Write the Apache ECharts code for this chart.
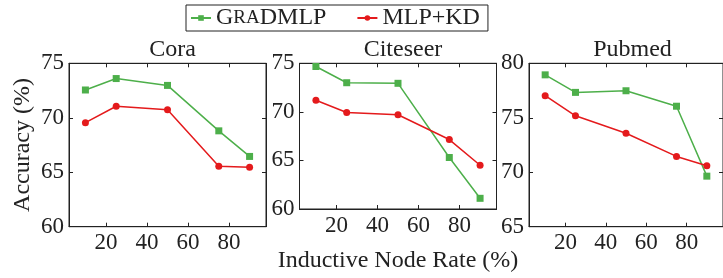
<!DOCTYPE html>
<html>
<head>
<meta charset="utf-8">
<script src="https://cdn.jsdelivr.net/npm/echarts@6/dist/echarts.min.js"></script>
<style>
  html, body { margin: 0; padding: 0; background: #fff; }
  #chart { width: 723px; height: 278px; }
</style>
</head>
<body>
<div id="chart"></div>
<script>
// inductive node rate (%)
var rates = [10, 25, 50, 75, 90];
var datasets = ['Cora', 'Citeseer', 'Pubmed'];

var gradCora     = [72.55, 73.6, 72.97, 68.8, 66.45];
var kdCora       = [69.55, 71.06, 70.73, 65.55, 65.45];
var gradCiteseer = [74.67, 73.0, 72.94, 65.3, 61.1];
var kdCiteseer   = [71.2, 69.94, 69.7, 67.15, 64.5];
var gradPubmed   = [78.94, 77.33, 77.48, 76.06, 69.64];
var kdPubmed     = [77.03, 75.18, 73.58, 71.45, 70.6];

var yMins = [60, 60, 65];
var yMaxs = [75, 75, 80];
var xTicks = [20, 40, 60, 80];

var FONT = 'Liberation Serif';
var GREEN = '#4daf4a';
var RED = '#e41a1c';
var INK = '#222';

var chart = echarts.init(document.getElementById('chart'));

var gradAll = [gradCora, gradCiteseer, gradPubmed];
var kdAll = [kdCora, kdCiteseer, kdPubmed];
var lefts = [69, 299.5, 529];

function pairs(vals) {
	return rates.map(function(r, i) { return [r, vals[i]]; });
}

var grids = [], xAxes = [], yAxes = [], titles = [], series = [];

datasets.forEach(function(name, i) {
	grids.push({
		left: lefts[i], top: 63.3, width: 197, height: 163.4,
		show: true, borderColor: INK, borderWidth: 1
	});
	titles.push({
		text: name,
		left: lefts[i] + 98.5, top: 33, textAlign: 'center',
		textStyle: { fontFamily: FONT, fontSize: 24, fontWeight: 'normal', color: INK }
	});
	// bottom axis with labels
	xAxes.push({
		gridIndex: i, type: 'value', min: 2, max: 98,
		name: i === 1 ? 'Inductive Node Rate (%)' : '',
		nameLocation: 'middle', nameGap: 40,
		nameTextStyle: { fontFamily: FONT, fontSize: 24, color: INK },
		axisLine: { lineStyle: { color: INK, width: 1 } },
		axisTick: { inside: true, length: 4, customValues: xTicks, lineStyle: { color: INK } },
		axisLabel: { customValues: xTicks, fontFamily: FONT, fontSize: 23, color: INK, margin: 5 },
		splitLine: { show: false }
	});
	// top axis, ticks only
	xAxes.push({
		gridIndex: i, type: 'value', min: 2, max: 98, position: 'top',
		axisLine: { lineStyle: { color: INK, width: 1 } },
		axisTick: { inside: true, length: 4, customValues: xTicks, lineStyle: { color: INK } },
		axisLabel: { show: false },
		splitLine: { show: false }
	});
	yAxes.push({
		gridIndex: i, type: 'value', min: yMins[i], max: yMaxs[i], interval: 5,
		name: i === 0 ? 'Accuracy (%)' : '',
		nameLocation: 'middle', nameGap: 34, nameRotate: 90,
		nameTextStyle: { fontFamily: FONT, fontSize: 24, color: INK },
		axisLine: { show: true, lineStyle: { color: INK, width: 1 } },
		axisTick: { show: true, inside: true, length: 4, lineStyle: { color: INK } },
		axisLabel: { fontFamily: FONT, fontSize: 23, color: INK, margin: 5 },
		splitLine: { show: false }
	});
	yAxes.push({
		gridIndex: i, type: 'value', min: yMins[i], max: yMaxs[i], interval: 5, position: 'right',
		axisLine: { show: true, lineStyle: { color: INK, width: 1 } },
		axisTick: { show: true, inside: true, length: 4, lineStyle: { color: INK } },
		axisLabel: { show: false },
		splitLine: { show: false }
	});
	series.push({
		name: 'GradMLP', type: 'line',
		xAxisIndex: i * 2, yAxisIndex: i * 2,
		data: pairs(gradAll[i]),
		symbol: 'rect', symbolSize: 7,
		lineStyle: { color: GREEN, width: 1.5 },
		itemStyle: { color: GREEN }
	});
	series.push({
		name: 'MLP+KD', type: 'line',
		xAxisIndex: i * 2, yAxisIndex: i * 2,
		data: pairs(kdAll[i]),
		symbol: 'circle', symbolSize: 7,
		lineStyle: { color: RED, width: 1.5 },
		itemStyle: { color: RED }
	});
});

chart.setOption({
	animation: false,
	textStyle: { fontFamily: FONT },
	title: titles,
	legend: {
		data: ['GradMLP', 'MLP+KD'],
		left: 186, top: 5,
		padding: [1, 8, 1, 4],
		itemGap: 30, itemWidth: 20, itemHeight: 7,
		borderColor: INK, borderWidth: 1,
		// small caps for the method name
		formatter: function(name) {
			if (name === 'GradMLP') return '{a|G}{b|RA}{a|DMLP}';
			return '{a|' + name + '}';
		},
		textStyle: {
			fontFamily: FONT, fontSize: 24, color: INK,
			rich: {
				a: { fontFamily: FONT, fontSize: 24, color: INK },
				b: { fontFamily: FONT, fontSize: 19, color: INK }
			}
		}
	},
	grid: grids,
	xAxis: xAxes,
	yAxis: yAxes,
	series: series
});
</script>
</body>
</html>
